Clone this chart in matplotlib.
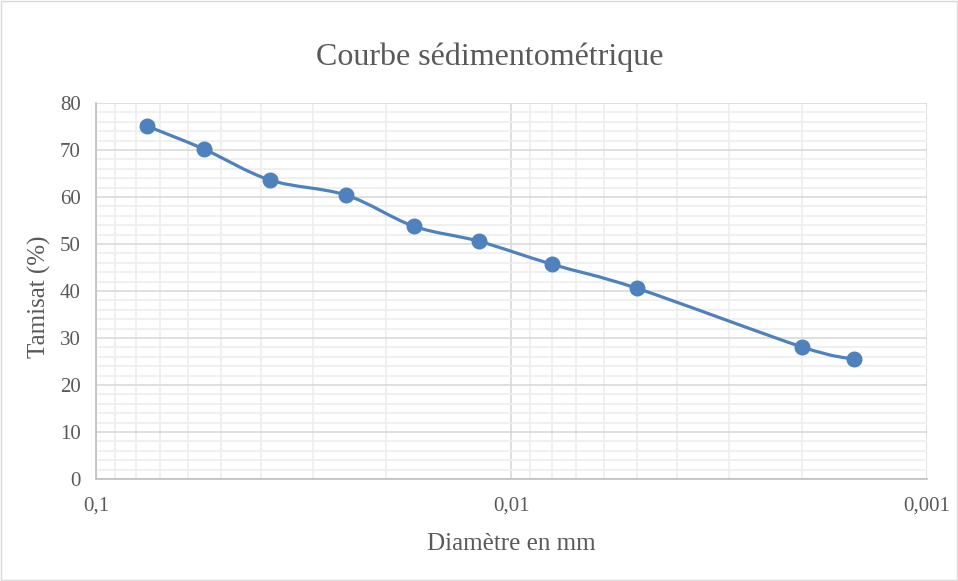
import numpy as np
import matplotlib
matplotlib.use("Agg")
from matplotlib import pyplot as plt
from matplotlib.path import Path
from matplotlib.patches import PathPatch, Rectangle
from matplotlib.ticker import LogLocator, FuncFormatter, MultipleLocator

diametre = [0.0754, 0.0550, 0.0381, 0.0250, 0.0172, 0.0120, 0.0080, 0.0050, 0.0020, 0.0015]
tamisat = [75.1, 70.2, 63.6, 60.4, 53.8, 50.6, 45.7, 40.6, 28.1, 25.5]
x_ticks = [0.1, 0.01, 0.001]
x_tick_labels = ["0,1", "0,01", "0,001"]

blue = "#4F81BD"
grey = "#595959"

plt.rcParams["font.family"] = ["Liberation Serif", "DejaVu Serif"]

fig = plt.figure(figsize=(9.58, 5.81), dpi=100)
ax = fig.add_axes([0.1002, 0.1756, 0.8674, 0.6471])
fig.patches.append(Rectangle((0.001, 0.001), 0.998, 0.998, transform=fig.transFigure,
                             fill=False, edgecolor="#d9d9d9", lw=1))

ax.set_xscale("log")
ax.set_xlim(0.1, 0.001)
ax.set_ylim(0, 80)

# smoothed line (Catmull-Rom -> cubic bezier in log-x space)
lx = np.log10(diametre)
y = np.array(tamisat)
verts = [(diametre[0], y[0])]
codes = [Path.MOVETO]
n = len(lx)
for i in range(n - 1):
    p0 = (lx[max(i - 1, 0)], y[max(i - 1, 0)])
    p1 = (lx[i], y[i])
    p2 = (lx[i + 1], y[i + 1])
    p3 = (lx[min(i + 2, n - 1)], y[min(i + 2, n - 1)])
    c1 = (p1[0] + (p2[0] - p0[0]) / 6, p1[1] + (p2[1] - p0[1]) / 6)
    c2 = (p2[0] - (p3[0] - p1[0]) / 6, p2[1] - (p3[1] - p1[1]) / 6)
    for c in (c1, c2, p2):
        verts.append((10 ** c[0], c[1]))
        codes.append(Path.CURVE4)
ax.add_patch(PathPatch(Path(verts, codes), fill=False, edgecolor=blue, lw=2.3,
                       capstyle="round", joinstyle="round", zorder=3))
ax.plot(diametre, tamisat, "o", color=blue, markersize=10.5, zorder=4)

ax.set_xticks(x_ticks)
ax.set_xticklabels(x_tick_labels)
ax.xaxis.set_minor_locator(LogLocator(base=10, subs=np.arange(2, 10)))
ax.xaxis.set_minor_formatter(FuncFormatter(lambda v, p: ""))
ax.yaxis.set_major_locator(MultipleLocator(10))
ax.yaxis.set_minor_locator(MultipleLocator(2))

ax.grid(which="major", color="#d9d9d9", lw=1.2)
ax.grid(which="minor", color="#eeeeee", lw=1.2)
ax.set_axisbelow(True)

for s in ["top", "right"]:
    ax.spines[s].set_visible(False)
for s in ["left", "bottom"]:
    ax.spines[s].set_color("#bfbfbf")
    ax.spines[s].set_linewidth(1.2)

ax.tick_params(which="both", length=0, colors=grey, labelsize=15)
ax.tick_params(axis="x", pad=13)
ax.tick_params(axis="y", pad=11)

fig.text(490 / 958, 1 - 57 / 581, "Courbe sédimentométrique", color=grey, fontsize=23,
         ha="center", va="center")
ax.set_xlabel("Diamètre en mm", color=grey, fontsize=18, labelpad=12)
ax.set_ylabel("Tamisat (%)", color=grey, fontsize=18)
ax.yaxis.set_label_coords(-0.054, 0.485)

fig.savefig("out.png", dpi=100)
